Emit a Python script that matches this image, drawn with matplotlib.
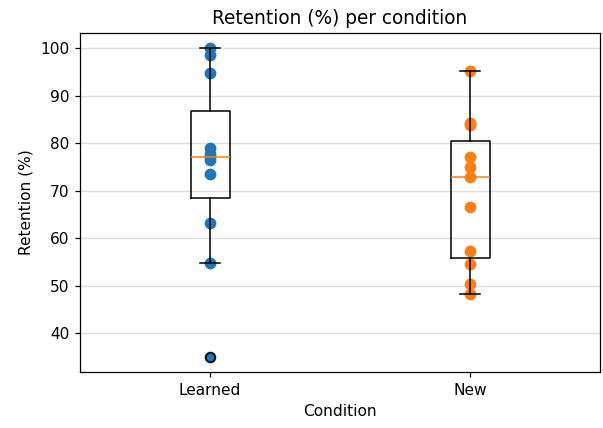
"""Retention (%) per condition: box plot with the raw points overlaid."""

import matplotlib
matplotlib.use("Agg")
import matplotlib.pyplot as plt

CONDITIONS = ["Learned", "New"]
LEARNED = [35.1, 54.7, 63.3, 73.5, 76.4, 77.1, 77.8, 79.0, 94.8, 98.6, 100.0]
NEW = [48.2, 50.3, 54.5, 57.3, 66.6, 73.0, 75.1, 77.2, 83.9, 84.3, 95.2]
COLORS = ["#1f77b4", "#ff7f0e"]

DPI = 111


def main() -> None:
    fig, ax = plt.subplots(figsize=(603 / DPI, 428 / DPI), dpi=DPI)
    fig.subplots_adjust(left=0.133, right=0.995, top=0.923, bottom=0.131)

    groups = [LEARNED, NEW]
    for i, (vals, color) in enumerate(zip(groups, COLORS), start=1):
        ax.scatter([i] * len(vals), vals, s=44, color=color, zorder=2)

    ax.boxplot(groups, zorder=3)
    ax.set_xticks([1, 2])
    ax.set_xticklabels(CONDITIONS)

    ax.yaxis.grid(True, color="#dddddd", linewidth=0.9, zorder=0)
    ax.set_axisbelow(True)
    ax.set_title("Retention (%) per condition")
    ax.set_xlabel("Condition")
    ax.set_ylabel("Retention (%)")

    fig.savefig("out.png", dpi=DPI)


if __name__ == "__main__":
    main()
